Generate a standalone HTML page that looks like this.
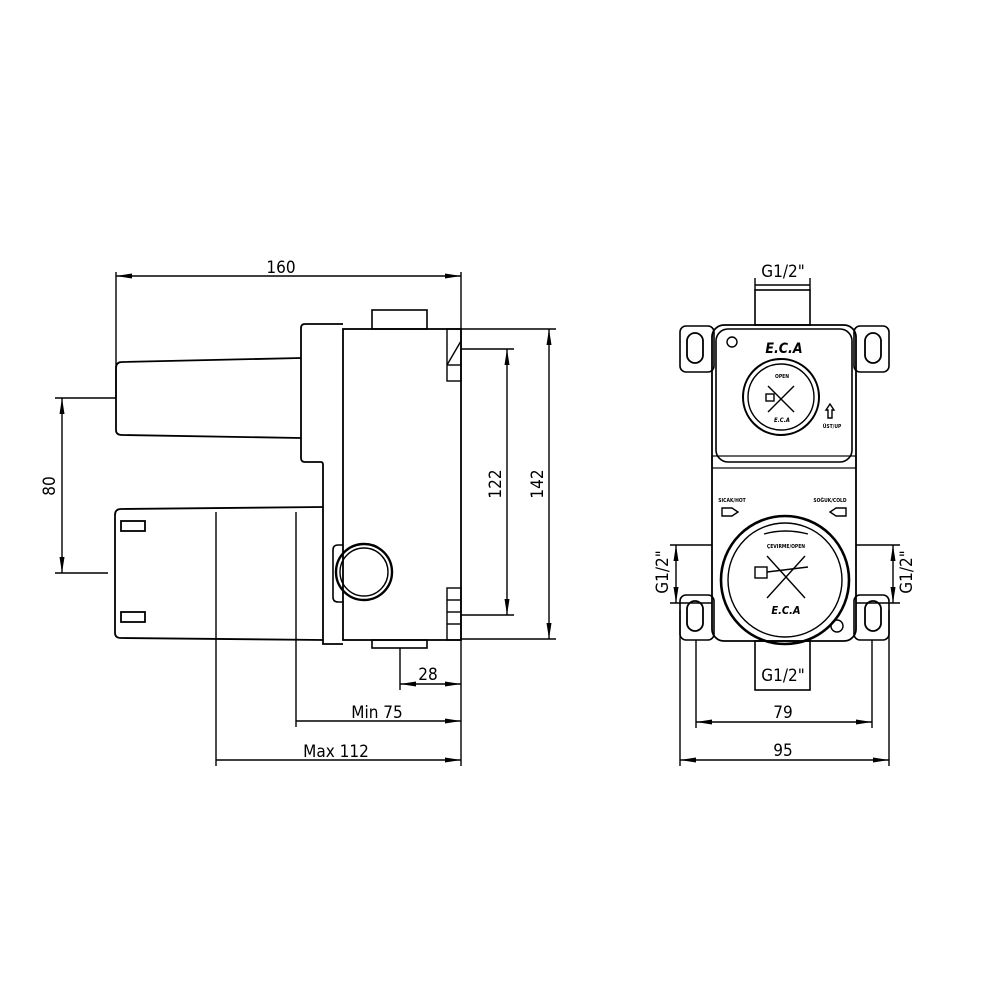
<!DOCTYPE html>
<html><head><meta charset="utf-8"><style>
html,body{margin:0;padding:0;background:#fff}
svg{display:block}
text{font-family:"DejaVu Sans Condensed","Liberation Sans Narrow","Liberation Sans",sans-serif;fill:#000}
</style></head><body>
<svg width="1000" height="1000" viewBox="0 0 1000 1000" xmlns="http://www.w3.org/2000/svg">
<defs>
<marker id="a" viewBox="0 0 16 6" refX="16" refY="3" markerWidth="16" markerHeight="6" markerUnits="userSpaceOnUse" orient="auto-start-reverse"><path d="M0,0.5 L16,3 L0,5.5 Z" fill="#000"/></marker>
</defs>
<g fill="none" stroke="#000" stroke-width="1.4">
<!-- LEFT VIEW dims -->
<line x1="116" y1="272" x2="116" y2="398"/>
<line x1="461" y1="272" x2="461" y2="330"/>
<line x1="116" y1="276" x2="461" y2="276" marker-start="url(#a)" marker-end="url(#a)"/>
<line x1="55" y1="398" x2="116" y2="398"/>
<line x1="55" y1="573" x2="108" y2="573"/>
<line x1="62" y1="398" x2="62" y2="573" marker-start="url(#a)" marker-end="url(#a)"/>
<line x1="461" y1="349" x2="514" y2="349"/>
<line x1="461" y1="615" x2="514" y2="615"/>
<line x1="507" y1="349" x2="507" y2="615" marker-start="url(#a)" marker-end="url(#a)"/>
<line x1="461" y1="329" x2="556" y2="329"/>
<line x1="461" y1="639" x2="556" y2="639"/>
<line x1="549" y1="329" x2="549" y2="639" marker-start="url(#a)" marker-end="url(#a)"/>
<line x1="461" y1="640" x2="461" y2="766"/>
<line x1="400" y1="648" x2="400" y2="690"/>
<line x1="400" y1="684" x2="461" y2="684" marker-start="url(#a)" marker-end="url(#a)"/>
<line x1="296" y1="512" x2="296" y2="727"/>
<line x1="296" y1="721" x2="461" y2="721" marker-end="url(#a)"/>
<line x1="216" y1="512" x2="216" y2="766"/>
<line x1="216" y1="760" x2="461" y2="760" marker-end="url(#a)"/>
<!-- body -->
<rect x="343" y="329" width="118" height="311" stroke-width="1.8"/>
<rect x="372" y="310" width="55" height="19" stroke-width="1.6"/>
<rect x="372" y="640" width="55" height="8" stroke-width="1.6"/>
<path d="M343,324 H305 Q301,324 301,328 V458 Q301,462 305,462 H321 Q323,462 323,465 V644 H343" stroke-width="1.8"/>
<path d="M301,358 L122,362 Q116,362 116,368 V430 Q116,435 122,435 L301,438" stroke-width="1.8"/>
<path d="M323,507 L121,509 Q115,509 115,515 V633 Q115,638 121,638 L323,640" stroke-width="1.8"/>
<rect x="121" y="521" width="24" height="10" stroke-width="1.8"/><rect x="121" y="612" width="24" height="10" stroke-width="1.8"/>
<path d="M343,545 H338 Q333,545 333,550 V597 Q333,602 338,602 H343" stroke-width="1.6"/>
<circle cx="364" cy="572" r="28" stroke-width="2.4"/><circle cx="364" cy="572" r="24"/>
<rect x="447" y="329" width="14" height="52"/><line x1="447" y1="365" x2="461" y2="341"/><line x1="447" y1="365" x2="461" y2="365"/>
<rect x="447" y="588" width="14" height="52"/><line x1="447" y1="600" x2="461" y2="600"/><line x1="447" y1="612" x2="461" y2="612"/><line x1="447" y1="624" x2="461" y2="624"/>
<!-- RIGHT VIEW dims -->
<line x1="755" y1="278" x2="755" y2="290"/><line x1="810" y1="278" x2="810" y2="290"/>
<line x1="755" y1="285" x2="810" y2="285"/>
<line x1="696" y1="640" x2="696" y2="728"/><line x1="872" y1="640" x2="872" y2="728"/>
<line x1="696" y1="722" x2="872" y2="722" marker-start="url(#a)" marker-end="url(#a)"/>
<line x1="680" y1="610" x2="680" y2="766"/><line x1="889" y1="610" x2="889" y2="766"/>
<line x1="680" y1="760" x2="889" y2="760" marker-start="url(#a)" marker-end="url(#a)"/>
<line x1="670" y1="545" x2="712" y2="545"/><line x1="670" y1="603" x2="712" y2="603"/>
<line x1="676" y1="545" x2="676" y2="603" marker-start="url(#a)" marker-end="url(#a)"/>
<line x1="856" y1="545" x2="900" y2="545"/><line x1="856" y1="603" x2="900" y2="603"/>
<line x1="893" y1="545" x2="893" y2="603" marker-start="url(#a)" marker-end="url(#a)"/>
<!-- body -->
<rect x="755" y="290" width="55" height="35" stroke-width="1.6"/>
<rect x="755" y="641" width="55" height="49" stroke-width="1.6"/>
<rect x="712" y="325" width="144" height="316" rx="12" stroke-width="1.8"/>
<rect x="716" y="329" width="136" height="133" rx="12" stroke-width="1.6"/>
<rect x="712" y="456" width="144" height="12" stroke-width="1.2"/>
<rect x="680" y="326" width="34" height="46" rx="6" stroke-width="1.6"/><rect x="687" y="333" width="16" height="30" rx="8" stroke-width="1.8"/>
<rect x="854" y="326" width="35" height="46" rx="6" stroke-width="1.6"/><rect x="865" y="333" width="16" height="30" rx="8" stroke-width="1.8"/>
<rect x="680" y="595" width="34" height="45" rx="6" stroke-width="1.6"/><rect x="687" y="601" width="16" height="30" rx="8" stroke-width="1.8"/>
<rect x="854" y="595" width="35" height="45" rx="6" stroke-width="1.6"/><rect x="865" y="601" width="16" height="30" rx="8" stroke-width="1.8"/>
<circle cx="732" cy="342" r="5"/>
<circle cx="781" cy="397" r="38" stroke-width="2"/><circle cx="781" cy="397" r="33"/>
<line x1="768" y1="386" x2="794" y2="412"/><line x1="794" y1="386" x2="768" y2="412"/>
<rect x="766" y="394" width="8" height="7"/>
<circle cx="785" cy="580" r="64" stroke-width="2.6"/><circle cx="785" cy="580" r="57"/>
<line x1="767" y1="556" x2="805" y2="598"/><line x1="805" y1="556" x2="767" y2="598"/>
<rect x="755" y="567" width="12" height="11"/><path d="M767,572 L808,567"/>
<path d="M764,534 Q785,528 808,534"/>
<circle cx="837" cy="626" r="6"/>
<path d="M722,508 H732 L738,512 L732,516 H722 Z"/><path d="M846,508 H836 L830,512 L836,516 H846 Z"/>
<path d="M826,410 L830,404 L834,410 H832 V418 H828 V410 Z"/>
</g>
<g font-size="17" text-anchor="middle">
<text x="281" y="273">160</text>
<text x="428" y="680">28</text>
<text x="377" y="718">Min 75</text>
<text x="336" y="757">Max 112</text>
<text transform="translate(55,486) rotate(-90)">80</text>
<text transform="translate(501,484) rotate(-90)">122</text>
<text transform="translate(543,484) rotate(-90)">142</text>
<text x="783" y="277">G1/2"</text>
<text x="783" y="681">G1/2"</text>
<text x="783" y="718">79</text>
<text x="783" y="756">95</text>
<text transform="translate(668,572) rotate(-90)">G1/2"</text>
<text transform="translate(912,572) rotate(-90)">G1/2"</text>
</g>
<g font-size="14" font-weight="bold" font-style="italic" text-anchor="middle">
<text x="784" y="353">E.C.A</text>
<text x="786" y="614" font-size="11">E.C.A</text>
<text x="782" y="422" font-size="6">E.C.A</text>
</g>
<g font-size="5" font-weight="bold" text-anchor="middle">
<text x="782" y="378">OPEN</text>
<text x="786" y="548">ÇEVIRME/OPEN</text>
<text x="732" y="502">SICAK/HOT</text>
<text x="830" y="502">SOĞUK/COLD</text>
<text x="832" y="428">ÜST/UP</text>
</g>
</svg>
</body></html>
